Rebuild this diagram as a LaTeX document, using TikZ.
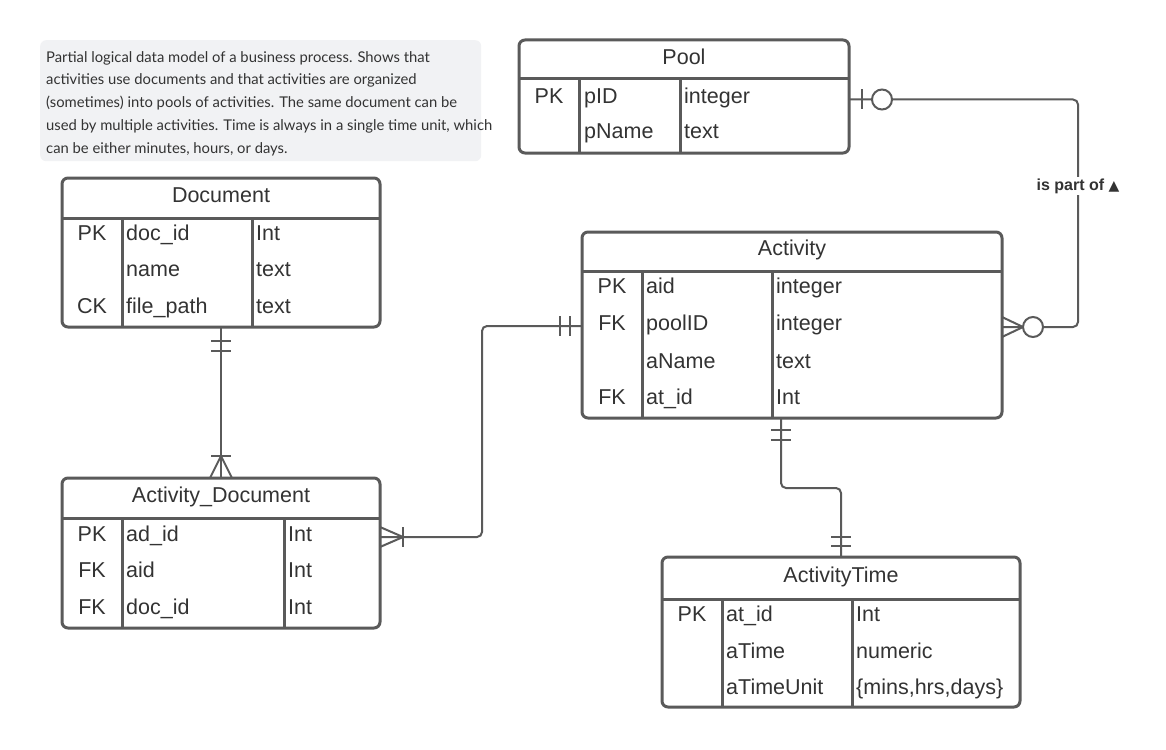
\documentclass[tikz,border=0pt]{standalone}
\usepackage{fontspec}
\setmainfont{Liberation Sans}
\newfontfamily\notefont{Lato}
\newfontfamily\symfont{DejaVu Sans}
\usetikzlibrary{calc}
\definecolor{ln}{HTML}{5A5A5A}
\definecolor{tx}{HTML}{333333}
\definecolor{notebg}{HTML}{F1F2F4}
\tikzset{
  tab/.style={draw=ln, line width=3pt, rounded corners=6pt, fill=white, inner sep=0pt, outer sep=0pt},
  tabline/.style={draw=ln, line width=3pt},
  hdr/.style={text=tx, font=\fontsize{21.5}{25}\selectfont, inner sep=0pt, anchor=mid},
  cell/.style={text=tx, font=\fontsize{21.5}{25}\selectfont, inner sep=0pt, anchor=mid west},
  keyc/.style={text=tx, font=\fontsize{21.5}{25}\selectfont, inner sep=0pt, anchor=mid},
  conn/.style={draw=ln, line width=2pt},
  lbl/.style={text=tx, font=\fontsize{16}{19}\selectfont\bfseries, fill=white, inner sep=2pt},
  notetext/.style={text=tx, font=\notefont\fontsize{14.8}{22.8}\selectfont, align=left, inner sep=0pt, anchor=north west}
}
\newcommand\ertable[8]{%
  \node[tab, minimum width={#4pt-#2pt}, minimum height={#5pt-#3pt}, anchor=north west] (#1) at (#2,#3) {};
  \draw[tabline] (#2,#6) -- (#4,#6) (#7,#6) -- (#7,#5) (#8,#6) -- (#8,#5);
}
\begin{document}
\begin{tikzpicture}[x=1pt,y=-1pt]
\useasboundingbox (0,0) rectangle (1166,749);
\fill[white] (0,0) rectangle (1166,749);

% note
\node[fill=notebg, rounded corners=6pt, minimum width=441pt, minimum height=121pt, inner sep=0pt, anchor=north west] (note) at (40,40) {};
\node[notetext] (notet) at (46,51) {Partial logical data model of a business process. Shows that\\
activities use documents and that activities are organized\\
(sometimes) into pools of activities. The same document can be\\
used by multiple activities. Time is always in a single time unit, which\\
can be either minutes, hours, or days.};

% Pool
\ertable{pool}{519}{40}{849}{153}{79}{579}{680}
\node[hdr] (pool-t) at (684,62) {Pool};
\node[keyc] (pool-k1) at (549,101) {PK};
\node[cell] (pool-f1) at (584,101) {pID};
\node[cell] (pool-y1) at (684,101) {integer};
\node[cell] (pool-f2) at (584,136) {pName};
\node[cell] (pool-y2) at (684,136) {text};

% Document
\ertable{doc}{62}{178}{380}{327}{218}{122}{252}
\node[hdr] (doc-t) at (221,200) {Document};
\node[keyc] (doc-k1) at (92,238) {PK};
\node[cell] (doc-f1) at (126,238) {doc\_id};
\node[cell] (doc-y1) at (256,238) {Int};
\node[cell] (doc-f2) at (126,274) {name};
\node[cell] (doc-y2) at (256,274) {text};
\node[keyc] (doc-k3) at (92,311) {CK};
\node[cell] (doc-f3) at (126,311) {file\_path};
\node[cell] (doc-y3) at (256,311) {text};

% Activity
\ertable{act}{582}{232}{1002}{418}{271}{642}{772}
\node[hdr] (act-t) at (792,253) {Activity};
\node[keyc] (act-k1) at (612,291) {PK};
\node[cell] (act-f1) at (646,291) {aid};
\node[cell] (act-y1) at (776,291) {integer};
\node[keyc] (act-k2) at (612,328) {FK};
\node[cell] (act-f2) at (646,328) {poolID};
\node[cell] (act-y2) at (776,328) {integer};
\node[cell] (act-f3) at (646,366) {aName};
\node[cell] (act-y3) at (776,366) {text};
\node[keyc] (act-k4) at (612,402) {FK};
\node[cell] (act-f4) at (646,402) {at\_id};
\node[cell] (act-y4) at (776,402) {Int};

% Activity_Document
\ertable{ad}{62}{478}{380}{628}{518}{122}{284}
\node[hdr] (ad-t) at (221,500) {Activity\_Document};
\node[keyc] (ad-k1) at (92,539) {PK};
\node[cell] (ad-f1) at (126,539) {ad\_id};
\node[cell] (ad-y1) at (288,539) {Int};
\node[keyc] (ad-k2) at (92,575) {FK};
\node[cell] (ad-f2) at (126,575) {aid};
\node[cell] (ad-y2) at (288,575) {Int};
\node[keyc] (ad-k3) at (92,612) {FK};
\node[cell] (ad-f3) at (126,612) {doc\_id};
\node[cell] (ad-y3) at (288,612) {Int};

% ActivityTime
\ertable{at}{662}{557}{1020}{707}{599}{722}{852}
\node[hdr] (at-t) at (841,580) {ActivityTime};
\node[keyc] (at-k1) at (692,619) {PK};
\node[cell] (at-f1) at (726,619) {at\_id};
\node[cell] (at-y1) at (856,619) {Int};
\node[cell] (at-f2) at (726,656) {aTime};
\node[cell] (at-y2) at (856,656) {numeric};
\node[cell] (at-f3) at (726,692) {aTimeUnit};
\node[cell] (at-y3) at (856,692) {\{mins,hrs,days\}};

% Connector 1: Document -- Activity_Document
\draw[conn] (doc.south) -- (ad.north);
\draw[conn] ($(doc.south)+(-10,14)$) -- +(20,0);
\draw[conn] ($(doc.south)+(-10,24)$) -- +(20,0);
\draw[conn] ($(ad.north)+(-10,-22)$) -- +(20,0);
\draw[conn] ($(ad.north)+(-11,0)$) -- ($(ad.north)+(0,-22)$) -- ($(ad.north)+(11,0)$);

% Connector 2: Activity_Document -- Activity
\coordinate (c2a) at ($(ad.east |- ad-k1.mid)+(0,-2)$);
\coordinate (c2b) at ($(act.west |- act-k2.mid)+(0,-2)$);
\draw[conn, rounded corners=5pt] (c2a) -- ++(102,0) |- (c2b);
\draw[conn] ($(c2a)+(0,-10)$) -- +(23,10) -- +(0,20);
\draw[conn] ($(c2a)+(23,-10)$) -- +(0,20);
\draw[conn] ($(c2b)+(-22,-10)$) -- +(0,20);
\draw[conn] ($(c2b)+(-12,-10)$) -- +(0,20);

% Connector 3: Activity -- ActivityTime
\coordinate (c3a) at ($(act.south)+(-11,0)$);
\draw[conn, rounded corners=5pt] (c3a) -- ++(0,70) -| (at.north);
\draw[conn] ($(c3a)+(-10,12)$) -- +(20,0);
\draw[conn] ($(c3a)+(-10,22)$) -- +(20,0);
\draw[conn] ($(at.north)+(-10,-20)$) -- +(20,0);
\draw[conn] ($(at.north)+(-10,-11)$) -- +(20,0);

% Connector 4: Pool -- Activity
\coordinate (c4a) at ($(pool.east)+(0,3)$);
\coordinate (c4b) at ($(act.east |- act-k2.mid)+(0,-1)$);
\draw[conn, rounded corners=5pt] (c4a) -- ++(229,0) |- (c4b);
\draw[conn] ($(c4a)+(13,-10)$) -- +(0,20);
\draw[conn, fill=white] ($(c4a)+(33,0)$) circle[radius=10];
\draw[conn] ($(c4b)+(0,-10)$) -- +(21,10) -- +(0,20);
\draw[conn, fill=white] ($(c4b)+(31,0)$) circle[radius=10];
\node[lbl] (c4l) at (1078,186) {is part of {\symfont\fontsize{14}{16}\selectfont ▲}};
\end{tikzpicture}
\end{document}
